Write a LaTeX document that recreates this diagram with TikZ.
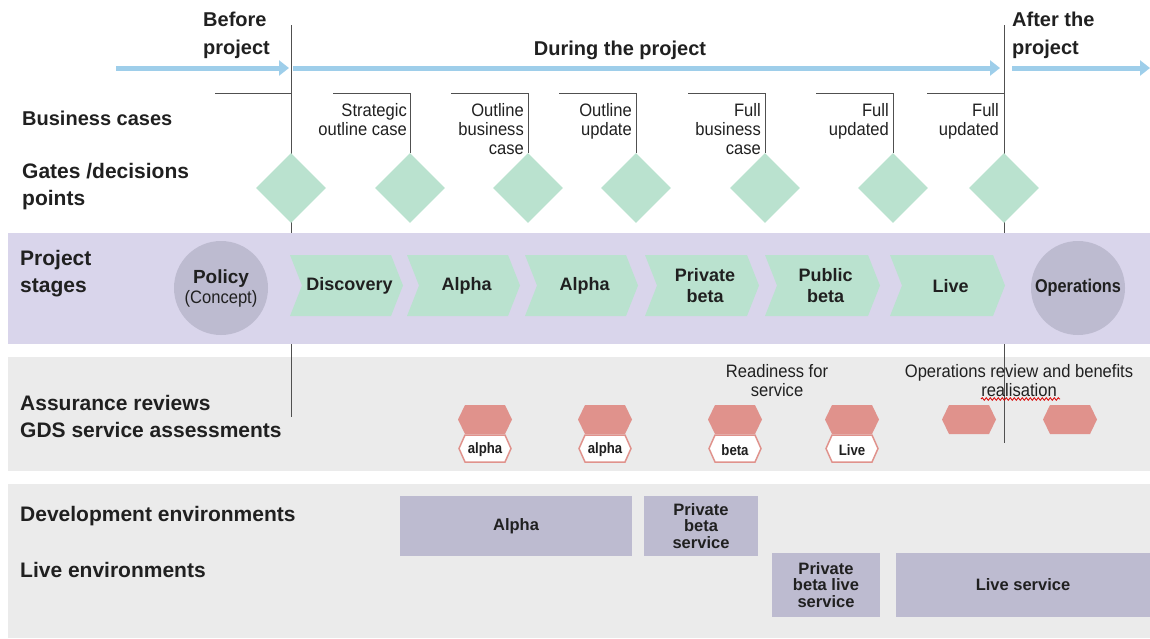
\documentclass[tikz,border=0pt]{standalone}
\usepackage{fontspec}
\setmainfont{Liberation Sans}
\newfontfamily\narrowfont{Liberation Sans}[FakeStretch=0.92]
\newfontfamily\tightfont{Liberation Sans}[FakeStretch=0.88]
\usetikzlibrary{shapes.geometric,arrows.meta,decorations.pathmorphing}

\definecolor{flow}{RGB}{158,206,234}
\definecolor{mint}{RGB}{186,226,207}
\definecolor{lilac}{RGB}{217,213,235}
\definecolor{disc}{RGB}{189,187,208}
\definecolor{band}{RGB}{235,235,235}
\definecolor{rose}{RGB}{224,146,140}
\definecolor{ink}{RGB}{32,32,32}
\definecolor{rule}{RGB}{80,80,80}

\tikzset{
  head/.style={font=\fontsize{20}{28}\selectfont\bfseries, text=ink, align=left, inner sep=0pt},
  rowlabel/.style={font=\fontsize{21}{27}\selectfont\bfseries, text=ink, align=left, inner sep=0pt},
  casetext/.style={font=\narrowfont\fontsize{18}{19}\selectfont, text=ink, align=right, inner sep=0pt, anchor=north east},
  gate/.style={diamond, fill=mint, minimum width=70pt, minimum height=70pt, inner sep=0pt},
  stagetext/.style={font=\fontsize{18}{21}\selectfont\bfseries, text=ink, align=center, inner sep=0pt},
  disk/.style={circle, fill=disc, minimum size=94pt, inner sep=0pt, text=ink, align=center},
  revtext/.style={font=\tightfont\fontsize{15}{15}\selectfont\bfseries, text=ink, inner sep=0pt},
  note/.style={font=\narrowfont\fontsize{18}{19}\selectfont, text=ink, align=center, inner sep=0pt},
  envbox/.style={fill=disc, inner sep=0pt, text=ink, align=center, font=\fontsize{16.5}{16.5}\selectfont\bfseries},
  timeline/.style={flow, line width=5pt, -{Triangle[length=10pt,width=15pt]}},
  bracket/.style={rule, line width=1pt},
}

% stage chevron: name, left x, tip x, label
\newcommand\stage[4]{%
  \fill[mint] (#2,255) -- ({#3-12},255) -- (#3,285.5) -- ({#3-12},316) -- (#2,316) -- ({#2+12},285.5) -- cycle;
  \node[stagetext] (#1) at ({(#2+#3)/2+3},286) {#4};}

% assurance review hexagon: name, centre x
\newcommand\reviewhex[2]{%
  \fill[rose] ({#2-20},405) -- ({#2+20},405) -- ({#2+27},419.5) -- ({#2+20},434) -- ({#2-20},434) -- ({#2-27},419.5) -- cycle;
  \coordinate (#1) at (#2,419.5);}
% labelled hexagon below a review: name, centre x, label
\newcommand\reviewtag[3]{%
  \draw[rose, line width=1.5pt, fill=white] ({#2-20},435) -- ({#2+20},435) -- ({#2+26},448.5) -- ({#2+20},462) -- ({#2-20},462) -- ({#2-26},448.5) -- cycle;
  \node[revtext] (#1) at (#2,450) {#3};}

\begin{document}
\begin{tikzpicture}[x=1pt,y=-1pt]
\useasboundingbox (0,0) rectangle (1150,638);

% lower bands
\fill[band] (8,357) rectangle (1150,471);
\fill[band] (8,484) rectangle (1150,638);

% phase boundaries
\draw[rule, line width=1pt] (291,25) -- (291,417);
\draw[rule, line width=1pt] (1004,25) -- (1004,443);

% project stage band
\fill[lilac] (8,233) rectangle (1150,344);

% timeline
\coordinate (t0) at (116,68);
\coordinate (t1) at (289,68);
\coordinate (t2) at (293,68);
\coordinate (t3) at (1000,68);
\coordinate (t4) at (1012,68);
\coordinate (t5) at (1150,68);
\draw[timeline] (t0) -- (t1);
\draw[timeline] (t2) -- (t3);
\draw[timeline] (t4) -- (t5);

\node[head, anchor=north west] (before) at (203,12) {Before\\project};
\node[head] (during) at (620,50) {During the project};
\node[head, anchor=north west] (after) at (1012,12) {After the\\project};

% row labels
\node[head, anchor=west] (lblcases) at (22,118) {Business cases};
\node[rowlabel, anchor=north west] (lblgates) at (22,163) {Gates /decisions\\points};
\node[rowlabel, anchor=north west] (lblstages) at (20,250) {Project\\stages};
\node[rowlabel, anchor=west] (lblassure) at (20,403) {Assurance reviews};
\node[rowlabel, anchor=west] (lblgds) at (20,430) {GDS service assessments};
\node[rowlabel, anchor=west] (lbldev) at (20,516) {Development environments};
\node[rowlabel, anchor=west] (lbllive) at (20,570) {Live environments};

% decision gates
\node[gate] (g1) at (291,188) {};
\node[gate] (g2) at (410,188) {};
\node[gate] (g3) at (528,188) {};
\node[gate] (g4) at (636,188) {};
\node[gate] (g5) at (765,188) {};
\node[gate] (g6) at (893,188) {};
\node[gate] (g7) at (1004,188) {};

% business case brackets
\coordinate (c1) at (215,93);
\coordinate (c2) at (333,93);
\coordinate (c3) at (451,93);
\coordinate (c4) at (559,93);
\coordinate (c5) at (688,93);
\coordinate (c6) at (816,93);
\coordinate (c7) at (927,93);
\draw[bracket] (c1) -- (291,93);
\draw[bracket] (c2) -| (g2.north);
\draw[bracket] (c3) -| (g3.north);
\draw[bracket] (c4) -| (g4.north);
\draw[bracket] (c5) -| (g5.north);
\draw[bracket] (c6) -| (g6.north);
\draw[bracket] (c7) -- (1004,93);

\node[casetext] (k2) at (407,103) {Strategic\\outline case};
\node[casetext] (k3) at (524,103) {Outline\\business\\case};
\node[casetext] (k4) at (632,103) {Outline\\update};
\node[casetext] (k5) at (761,103) {Full\\business\\case};
\node[casetext] (k6) at (889,103) {Full\\updated};
\node[casetext] (k7) at (999,103) {Full\\updated};

% stages
\node[disk] (policy) at (221,288) {{\fontsize{19}{20}\selectfont\bfseries Policy}\\[2pt]{\narrowfont\fontsize{18}{19}\selectfont(Concept)}};
\stage{s1}{290}{403}{Discovery}
\stage{s2}{407}{520}{Alpha}
\stage{s3}{525}{638}{Alpha}
\stage{s4}{645}{759}{Private\\beta}
\stage{s5}{765}{880}{Public\\beta}
\stage{s6}{890}{1005}{Live}
\node[disk, font=\tightfont\fontsize{18.5}{20}\selectfont\bfseries] (ops) at (1078,288) {Operations};

% assurance reviews
\reviewhex{r1}{485}
\reviewhex{r2}{605}
\reviewhex{r3}{735}
\reviewhex{r4}{852}
\reviewhex{r5}{969}
\reviewhex{r6}{1070}
\reviewtag{a1}{485}{alpha}
\reviewtag{a2}{605}{alpha}
\reviewtag{a3}{735}{beta}
\reviewtag{a4}{852}{Live}

\node[note] (ready) at (777,381) {Readiness for\\service};
\node[note] (opsreview) at (1019,381) {Operations review and benefits\\realisation};
\coordinate (sq0) at (981,399);
\coordinate (sq1) at (1060,399);
\draw[red!85!black, line width=0.8pt, decorate, decoration={snake, amplitude=1.3pt, segment length=4pt}] (sq0) -- (sq1);

% environments
\node[envbox, minimum width=232pt, minimum height=60pt] (devalpha) at (516,526) {Alpha};
\node[envbox, minimum width=114pt, minimum height=60pt] (devbeta) at (701,526) {Private\\beta\\service};
\node[envbox, minimum width=108pt, minimum height=64pt] (livebeta) at (826,585) {Private\\beta live\\service};
\node[envbox, minimum width=254pt, minimum height=64pt] (liveservice) at (1023,585) {Live service};
\end{tikzpicture}
\end{document}
